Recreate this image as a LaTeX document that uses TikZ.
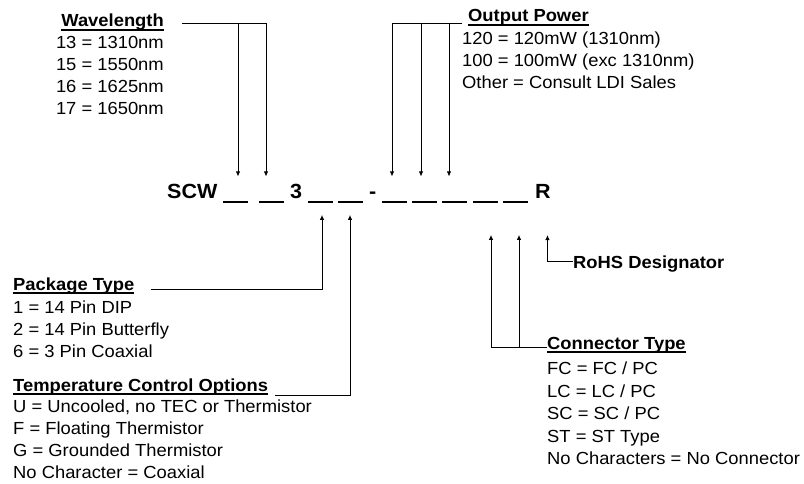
\documentclass[tikz,border=0pt]{standalone}
\usepackage{fontspec}
\setmainfont{Liberation Sans}[FakeStretch=1.05]
\usepackage{tikz}
\usetikzlibrary{arrows.meta}
\newcommand{\hdline}[1]{\setbox0\hbox{#1}\rlap{\rule[-3.6pt]{\wd0}{1.2pt}}\box0}
\tikzstyle{txt}=[inner sep=0pt, font=\fontsize{17.5}{20}\selectfont]
\tikzstyle{hd}=[inner sep=0pt, font=\fontsize{17.5}{20}\selectfont\bfseries]
\tikzstyle{code}=[inner sep=0pt, font=\fontsize{20.5}{24}\selectfont\bfseries]
\tikzstyle{blank}=[inner sep=0pt, minimum width=25pt, minimum height=2pt, fill=black]
\tikzstyle{conn}=[line width=0.9pt, -{Latex[length=5pt,width=4.5pt]}]

\begin{document}
\begin{tikzpicture}[x=1pt, y=1pt]
\useasboundingbox (0,0) rectangle (804,483);
\node[hd, anchor=base east] (wl0) at (164,456){\hdline{Wavelength}};
\node[txt, anchor=base east] (wl1) at (164,434){13 = 1310nm};
\node[txt, anchor=base east] (wl2) at (164,412){15 = 1550nm};
\node[txt, anchor=base east] (wl3) at (164,390){16 = 1625nm};
\node[txt, anchor=base east] (wl4) at (164,368){17 = 1650nm};
\node[hd, anchor=base west] (op0) at (468,461){\hdline{Output Power}};
\node[txt, anchor=base west] (op1) at (462,438){120 = 120mW (1310nm)};
\node[txt, anchor=base west] (op2) at (462,416){100 = 100mW (exc 1310nm)};
\node[txt, anchor=base west] (op3) at (462,394){Other = Consult LDI Sales};
\node[code, anchor=base west] (cSCW) at (167,284){SCW};
\node[code, anchor=base west] (c3) at (290,284){3};
\node[code, anchor=base west] (cdash) at (369,284){-};
\node[code, anchor=base west] (cR) at (535,284){R};
\node[blank] (bl1) at (235,281.3){};
\node[blank] (bl2) at (271,281.3){};
\node[blank] (bl3) at (320.5,281.3){};
\node[blank] (bl4) at (350.5,281.3){};
\node[blank] (bl5) at (394.5,281.3){};
\node[blank] (bl6) at (424.5,281.3){};
\node[blank] (bl7) at (454.5,281.3){};
\node[blank] (bl8) at (485.5,281.3){};
\node[blank] (bl9) at (515.5,281.3){};
\node[hd, anchor=base west] (rohs) at (573,215){RoHS Designator};
\node[hd, anchor=base west] (pk0) at (13,193){\hdline{Package Type}};
\node[txt, anchor=base west] (pk1) at (13,170){1 = 14 Pin DIP};
\node[txt, anchor=base west] (pk2) at (13,148){2 = 14 Pin Butterfly};
\node[txt, anchor=base west] (pk3) at (13,126){6 = 3 Pin Coaxial};
\node[hd, anchor=base west] (tc0) at (13,92){\hdline{Temperature Control Options}};
\node[txt, anchor=base west] (tc1) at (13,70.5){U = Uncooled, no TEC or Thermistor};
\node[txt, anchor=base west] (tc2) at (13,48.5){F = Floating Thermistor};
\node[txt, anchor=base west] (tc3) at (13,26.5){G = Grounded Thermistor};
\node[txt, anchor=base west] (tc4) at (13,4.5){No Character = Coaxial};
\node[hd, anchor=base west] (ct0) at (547,134){\hdline{Connector Type}};
\node[txt, anchor=base west] (ct1) at (547,109){FC = FC / PC};
\node[txt, anchor=base west] (ct2) at (547,86){LC = LC / PC};
\node[txt, anchor=base west] (ct3) at (547,64){SC = SC / PC};
\node[txt, anchor=base west] (ct4) at (547,41){ST = ST Type};
\node[txt, anchor=base west] (ct5) at (547,19){No Characters = No Connector};
\draw[conn] ([xshift=18pt,yshift=4pt]wl0.base east) coordinate (wlbar) -| ([xshift=-5pt,yshift=24pt]bl2.north);
\draw[conn] ([xshift=3pt]bl1.north |- wlbar) -- ([xshift=3pt,yshift=24pt]bl1.north);
\draw[conn] ([xshift=-6pt,yshift=-1pt]op0.base west) coordinate (opbar) -| ([xshift=-2.5pt,yshift=24pt]bl5.north);
\draw[conn] ([xshift=-3.5pt]bl6.north |- opbar) -- ([xshift=-3.5pt,yshift=24pt]bl6.north);
\draw[conn] ([xshift=-5.5pt]bl7.north |- opbar) -- ([xshift=-5.5pt,yshift=24pt]bl7.north);
\draw[conn] ([xshift=16pt,yshift=1pt]pk0.base east) -| ([xshift=1.5pt,yshift=-12pt]bl3.south);
\draw[conn] ([xshift=7pt,yshift=-4pt]tc0.base east) -| ([xshift=-0.5pt,yshift=-12pt]bl4.south);
\draw[conn] ([yshift=2pt]ct0.base west) coordinate (ctbar) -| ([xshift=5.5pt,yshift=-32pt]bl8.south);
\draw[conn] ([xshift=3.5pt]bl9.south |- ctbar) -- ([xshift=3.5pt,yshift=-32pt]bl9.south);
\draw[conn] ([yshift=7pt]rohs.base west) -| ([xshift=4.5pt,yshift=-36pt]cR.base);
\end{tikzpicture}
\end{document}
